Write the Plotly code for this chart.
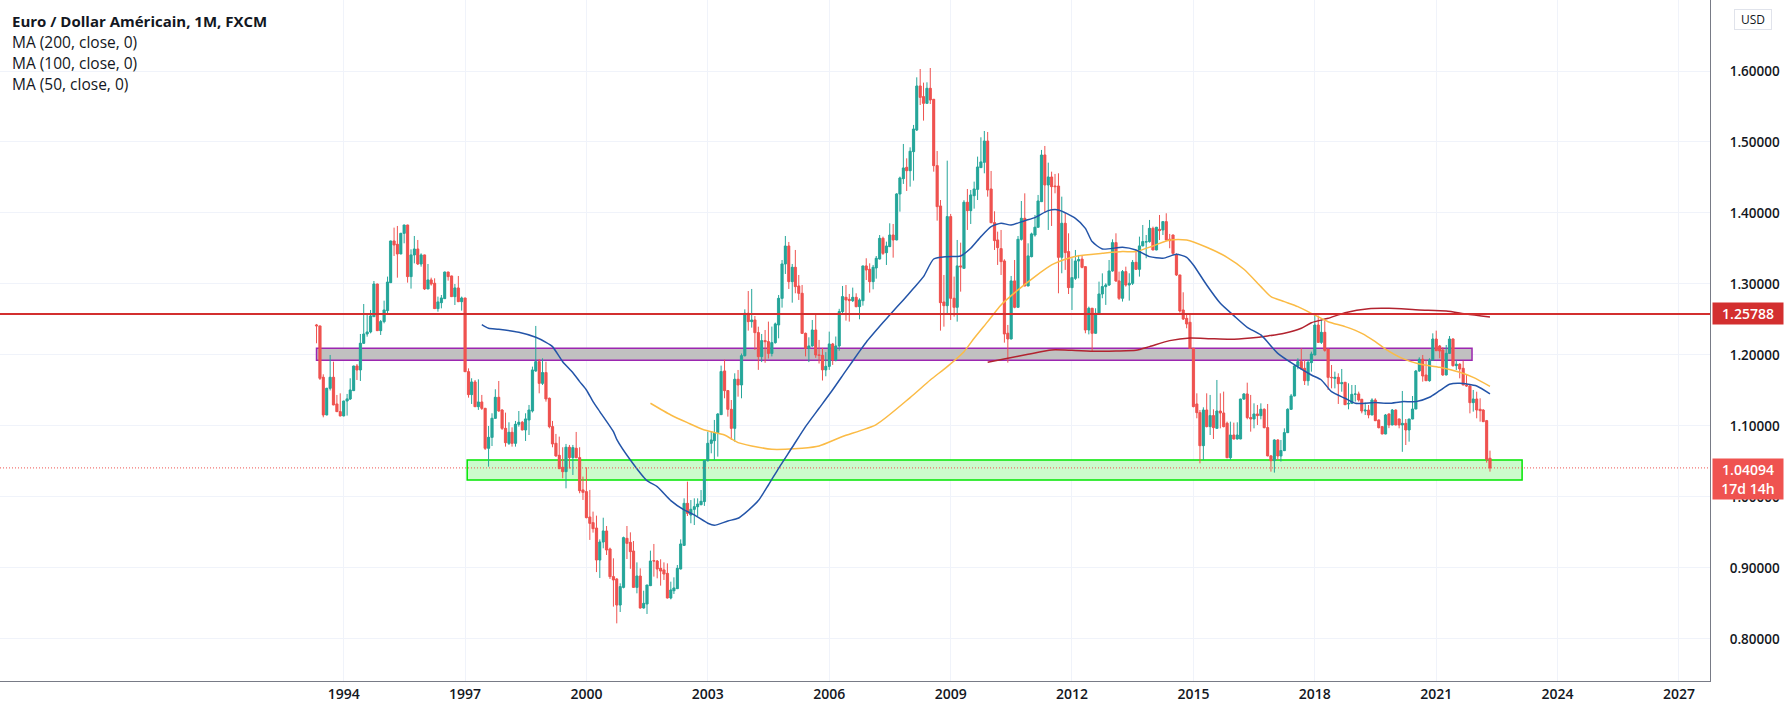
import pandas as pd
import plotly.graph_objects as go

# monthly candles, May 1993 to May 2022
opens = [
    1.2423, 1.2409, 1.1686, 1.1155, 1.1531, 1.1686, 1.1310, 1.1202, 1.1141, 1.1352,
    1.1380, 1.1498, 1.1845, 1.1789, 1.2165, 1.2296, 1.2324, 1.2540, 1.3000, 1.2343,
    1.2470, 1.2625, 1.3019, 1.3606, 1.3559, 1.3423, 1.3714, 1.3831, 1.3104, 1.3409,
    1.3493, 1.3282, 1.3409, 1.2930, 1.3057, 1.3010, 1.2653, 1.2737, 1.2794, 1.3169,
    1.3113, 1.2822, 1.2944, 1.2751, 1.2803, 1.1765, 1.1442, 1.1620, 1.1272, 1.1338,
    1.1249, 1.0686, 1.0840, 1.1108, 1.1404, 1.1225, 1.0967, 1.0756, 1.0911, 1.0756,
    1.1024, 1.1052, 1.0944, 1.1085, 1.1211, 1.1775, 1.1906, 1.1601, 1.1752, 1.1390,
    1.0991, 1.0756, 1.0587, 1.0418, 1.0357, 1.0700, 1.0554, 1.0686, 1.0554, 1.0099,
    1.0075, 0.9718, 0.9638, 0.9563, 0.9112, 0.9366, 0.9521, 0.9267, 0.8878, 0.8845,
    0.8478, 0.8727, 0.9417, 0.9361, 0.9239, 0.8727, 0.8887, 0.8436, 0.8493, 0.8751,
    0.9103, 0.9098, 0.8995, 0.8972, 0.8924, 0.8577, 0.8680, 0.8709, 0.8986, 0.9319,
    0.9910, 0.9746, 0.9826, 0.9863, 0.9892, 0.9935, 1.0512, 1.0756, 1.0793, 1.0906,
    1.1160, 1.1775, 1.1498, 1.1235, 1.0967, 1.1658, 1.1578, 1.1990, 1.2587, 1.2470,
    1.2493, 1.2315, 1.1977, 1.2202, 1.2188, 1.2022, 1.2174, 1.2423, 1.2798, 1.3282,
    1.3535, 1.3033, 1.3235, 1.2972, 1.2869, 1.2305, 1.2094, 1.2127, 1.2352, 1.2000,
    1.1995, 1.1790, 1.1840, 1.2155, 1.1930, 1.2127, 1.2611, 1.2812, 1.2784, 1.2765,
    1.2812, 1.2681, 1.2765, 1.3254, 1.3207, 1.3033, 1.3226, 1.3352, 1.3643, 1.3441,
    1.3526, 1.3690, 1.3620, 1.4268, 1.4484, 1.4643, 1.4596, 1.4864, 1.5169, 1.5789,
    1.5639, 1.5545, 1.5756, 1.5601, 1.4667, 1.4099, 1.2746, 1.2695, 1.3949, 1.2799,
    1.2672, 1.3254, 1.3221, 1.4151, 1.4033, 1.4244, 1.4333, 1.4639, 1.4714, 1.5014,
    1.4338, 1.3864, 1.3620, 1.3498, 1.3324, 1.2306, 1.2226, 1.3043, 1.2672, 1.3629,
    1.3925, 1.2972, 1.3385, 1.3690, 1.3799, 1.4160, 1.4817, 1.4395, 1.4507, 1.4380,
    1.4380, 1.3376, 1.3855, 1.3456, 1.2949, 1.3080, 1.3324, 1.3350, 1.3244, 1.2352,
    1.2658, 1.2306, 1.2577, 1.2859, 1.2963, 1.2986, 1.3183, 1.3582, 1.3043, 1.2799,
    1.3174, 1.2986, 1.3010, 1.3305, 1.3207, 1.3536, 1.3590, 1.3597, 1.3784, 1.3479,
    1.3770, 1.3761, 1.3878, 1.3630, 1.3690, 1.3409, 1.3127, 1.2634, 1.2516, 1.2460,
    1.2094, 1.1310, 1.1188, 1.0723, 1.1225, 1.0991, 1.1146, 1.0967, 1.1211, 1.1183,
    1.1038, 1.0554, 1.0873, 1.0817, 1.0817, 1.1380, 1.1451, 1.1118, 1.1099, 1.1169,
    1.1146, 1.1235, 1.0977, 1.0578, 1.0512, 1.0803, 1.0578, 1.0653, 1.0906, 1.1235,
    1.1422, 1.1845, 1.1906, 1.1812, 1.1638, 1.1892, 1.2000, 1.2422, 1.2178, 1.2319,
    1.2084, 1.1685, 1.1671, 1.1685, 1.1596, 1.1615, 1.1310, 1.1319, 1.1446, 1.1451,
    1.1376, 1.1211, 1.1225, 1.1155, 1.1366, 1.1085, 1.0991, 1.0887, 1.1169, 1.1014,
    1.1225, 1.1099, 1.1014, 1.1037, 1.0944, 1.1098, 1.1239, 1.1774, 1.1939, 1.1718,
    1.1638, 1.1929, 1.2225, 1.2127, 1.2070, 1.1718, 1.2023, 1.2225, 1.1850, 1.1870,
    1.1812, 1.1577, 1.1563, 1.1329, 1.1380, 1.1235, 1.1225, 1.1075, 1.0545,
]
highs = [
    1.2437, 1.2410, 1.1728, 1.1531, 1.2000, 1.1906, 1.1437, 1.1460, 1.1352, 1.1451,
    1.1672, 1.1845, 1.1873, 1.2296, 1.2718, 1.2587, 1.2634, 1.3042, 1.3000, 1.2493,
    1.2765, 1.3104, 1.3606, 1.3794, 1.3817, 1.3714, 1.3831, 1.3831, 1.3488, 1.3676,
    1.3620, 1.3432, 1.3409, 1.3282, 1.3089, 1.3080, 1.2822, 1.2845, 1.3169, 1.3169,
    1.3113, 1.3000, 1.3113, 1.2822, 1.2803, 1.1812, 1.1672, 1.1648, 1.1657, 1.1437,
    1.1249, 1.1000, 1.1179, 1.1517, 1.1634, 1.1235, 1.1188, 1.1052, 1.0981, 1.1071,
    1.1211, 1.1071, 1.1179, 1.1296, 1.1836, 1.2409, 1.1944, 1.1953, 1.1906, 1.1400,
    1.1071, 1.0888, 1.0850, 1.0700, 1.0747, 1.0733, 1.0733, 1.0916, 1.0700, 1.0287,
    1.0418, 1.0099, 0.9794, 0.9737, 0.9403, 0.9708, 0.9591, 0.9286, 0.9136, 0.8854,
    0.8784, 0.9441, 0.9591, 0.9502, 0.9380, 0.9079, 0.8995, 0.8680, 0.8760, 0.9244,
    0.9338, 0.9112, 0.9122, 0.9079, 0.9065, 0.8807, 0.8868, 0.9042, 0.9403, 0.9981,
    1.0216, 0.9957, 0.9981, 0.9981, 1.0098, 1.0512, 1.0920, 1.0920, 1.1085, 1.1179,
    1.1850, 1.1935, 1.1507, 1.1366, 1.1742, 1.1789, 1.2020, 1.2643, 1.2901, 1.2930,
    1.2549, 1.2399, 1.2296, 1.2352, 1.2470, 1.2400, 1.2456, 1.2845, 1.3338, 1.3676,
    1.3592, 1.3282, 1.3479, 1.3127, 1.2986, 1.2315, 1.2249, 1.2493, 1.2587, 1.2212,
    1.2100, 1.2040, 1.2329, 1.2170, 1.2260, 1.2650, 1.2972, 1.2986, 1.2860, 1.2949,
    1.2869, 1.2798, 1.3254, 1.3362, 1.3291, 1.3268, 1.3394, 1.3690, 1.3667, 1.3596,
    1.3855, 1.3845, 1.4277, 1.4512, 1.4972, 1.4770, 1.4925, 1.5240, 1.5911, 1.6028,
    1.5836, 1.5841, 1.6042, 1.5601, 1.4873, 1.4183, 1.3127, 1.4737, 1.3986, 1.3104,
    1.3620, 1.3582, 1.4180, 1.4338, 1.4324, 1.4442, 1.4794, 1.5066, 1.5155, 1.5141,
    1.4592, 1.4024, 1.3737, 1.3761, 1.3348, 1.2423, 1.3113, 1.3338, 1.3676, 1.4169,
    1.4277, 1.3573, 1.3723, 1.3972, 1.4254, 1.4888, 1.4944, 1.4709, 1.4582, 1.4550,
    1.4559, 1.4230, 1.3996, 1.3714, 1.3362, 1.3479, 1.3409, 1.3395, 1.3244, 1.2681,
    1.2658, 1.2658, 1.3033, 1.3150, 1.3010, 1.3338, 1.3629, 1.3714, 1.3174, 1.3197,
    1.3244, 1.3151, 1.3338, 1.3479, 1.3667, 1.3831, 1.3690, 1.3902, 1.3808, 1.3799,
    1.3972, 1.3880, 1.3996, 1.3705, 1.3695, 1.3432, 1.3127, 1.2883, 1.2578, 1.2564,
    1.2094, 1.1460, 1.1225, 1.1263, 1.1460, 1.1437, 1.1235, 1.1648, 1.1460, 1.1484,
    1.1061, 1.1061, 1.1047, 1.1052, 1.1380, 1.1460, 1.1610, 1.1437, 1.1319, 1.1296,
    1.1319, 1.1249, 1.1310, 1.0592, 1.0812, 1.0812, 1.0803, 1.0967, 1.1249, 1.1451,
    1.1859, 1.1953, 1.2094, 1.1929, 1.1929, 1.2047, 1.2563, 1.2554, 1.2493, 1.2483,
    1.2084, 1.1859, 1.1765, 1.1742, 1.1803, 1.1620, 1.1601, 1.1577, 1.1577, 1.1484,
    1.1376, 1.1329, 1.1296, 1.1390, 1.1390, 1.1085, 1.0991, 1.1169, 1.1175, 1.1239,
    1.1230, 1.1099, 1.1493, 1.1098, 1.1098, 1.1422, 1.1789, 1.1967, 1.2000, 1.1929,
    1.1953, 1.2305, 1.2343, 1.2141, 1.2108, 1.2141, 1.2267, 1.2235, 1.1929, 1.1883,
    1.1920, 1.1727, 1.1577, 1.1507, 1.1483, 1.1390, 1.1235, 1.1085, 1.0653,
]
lows = [
    1.2165, 1.1648, 1.1122, 1.1155, 1.1500, 1.1296, 1.1202, 1.1141, 1.1141, 1.1146,
    1.1366, 1.1498, 1.1648, 1.1634, 1.2165, 1.2258, 1.2305, 1.2540, 1.2343, 1.2282,
    1.2446, 1.2564, 1.3019, 1.3395, 1.3089, 1.3423, 1.3573, 1.3019, 1.2935, 1.3291,
    1.3268, 1.3244, 1.2916, 1.2930, 1.2977, 1.2653, 1.2610, 1.2657, 1.2794, 1.3047,
    1.2822, 1.2704, 1.2751, 1.2625, 1.1765, 1.1399, 1.1310, 1.1272, 1.1226, 1.1226,
    1.0662, 1.0427, 1.0718, 1.1108, 1.1202, 1.0944, 1.0709, 1.0732, 1.0709, 1.0709,
    1.0991, 1.0944, 1.0789, 1.0873, 1.1190, 1.1765, 1.1460, 1.1577, 1.1343, 1.0967,
    1.0700, 1.0568, 1.0399, 1.0263, 1.0122, 1.0399, 1.0310, 1.0545, 1.0052, 0.9958,
    0.9700, 0.9395, 0.9498, 0.8942, 0.8859, 0.9277, 0.9183, 0.8845, 0.8455, 0.8220,
    0.8380, 0.8713, 0.9126, 0.8989, 0.8727, 0.8643, 0.8431, 0.8431, 0.8352, 0.8746,
    0.8878, 0.8854, 0.8751, 0.8831, 0.8573, 0.8558, 0.8633, 0.8709, 0.8981, 0.9309,
    0.9732, 0.9629, 0.9605, 0.9732, 0.9882, 0.9874, 1.0498, 1.0615, 1.0521, 1.0568,
    1.1155, 1.1390, 1.1132, 1.0803, 1.0780, 1.1413, 1.1390, 1.1980, 1.2343, 1.2385,
    1.2071, 1.1790, 1.1900, 1.1890, 1.1950, 1.1980, 1.2160, 1.2235, 1.2667, 1.3141,
    1.2930, 1.2737, 1.2869, 1.2775, 1.2296, 1.1980, 1.1900, 1.2118, 1.1960, 1.1880,
    1.1640, 1.1700, 1.1790, 1.1860, 1.1910, 1.2060, 1.2564, 1.2484, 1.2470, 1.2746,
    1.2672, 1.2503, 1.2695, 1.3056, 1.2878, 1.2925, 1.3075, 1.3348, 1.3409, 1.3268,
    1.3526, 1.3371, 1.3620, 1.4019, 1.4409, 1.4310, 1.4371, 1.4456, 1.5155, 1.5521,
    1.5301, 1.5545, 1.5535, 1.4582, 1.3892, 1.2343, 1.2399, 1.2564, 1.2493, 1.2540,
    1.2470, 1.2892, 1.3221, 1.3761, 1.3845, 1.4061, 1.4183, 1.4639, 1.4559, 1.4230,
    1.3855, 1.3479, 1.3268, 1.3127, 1.2174, 1.1892, 1.2221, 1.2658, 1.2672, 1.3611,
    1.2972, 1.2972, 1.3376, 1.3667, 1.3799, 1.4160, 1.4000, 1.3761, 1.3817, 1.4277,
    1.2869, 1.3151, 1.3198, 1.2859, 1.2634, 1.3057, 1.3080, 1.3221, 1.2306, 1.2290,
    1.2047, 1.2306, 1.2577, 1.2799, 1.2705, 1.2972, 1.3174, 1.3029, 1.2775, 1.2752,
    1.2963, 1.2766, 1.2986, 1.3197, 1.3104, 1.3536, 1.3362, 1.3583, 1.3479, 1.3479,
    1.3620, 1.3690, 1.3611, 1.3503, 1.3409, 1.3113, 1.2597, 1.2493, 1.2376, 1.2090,
    1.1263, 1.1108, 1.0474, 1.0521, 1.0981, 1.0873, 1.0817, 1.0967, 1.0967, 1.0981,
    1.0545, 1.0521, 1.0812, 1.0812, 1.0817, 1.1366, 1.1094, 1.0920, 1.0967, 1.1014,
    1.1094, 1.0967, 1.0578, 1.0357, 1.0343, 1.0521, 1.0498, 1.0653, 1.0906, 1.1225,
    1.1422, 1.1798, 1.1798, 1.1577, 1.1568, 1.1765, 1.2000, 1.2178, 1.2155, 1.2047,
    1.1507, 1.1530, 1.1530, 1.1310, 1.1483, 1.1296, 1.1235, 1.1319, 1.1343, 1.1343,
    1.1178, 1.1155, 1.1108, 1.1155, 1.1075, 1.0967, 1.0887, 1.0887, 1.0970, 1.1014,
    1.1014, 1.0967, 1.0636, 1.0732, 1.0779, 1.1098, 1.1239, 1.1765, 1.1624, 1.1638,
    1.1624, 1.1929, 1.2061, 1.1953, 1.1709, 1.1718, 1.2023, 1.1836, 1.1789, 1.1671,
    1.1577, 1.1554, 1.1178, 1.1202, 1.1108, 1.1061, 1.1061, 1.0484, 1.0357,
]
closes = [
    1.2410, 1.1672, 1.1155, 1.1531, 1.1686, 1.1296, 1.1202, 1.1141, 1.1352, 1.1381,
    1.1507, 1.1845, 1.1789, 1.2165, 1.2296, 1.2324, 1.2550, 1.3000, 1.2343, 1.2470,
    1.2634, 1.3028, 1.3606, 1.3550, 1.3423, 1.3714, 1.3831, 1.3104, 1.3409, 1.3493,
    1.3282, 1.3409, 1.2930, 1.3057, 1.3000, 1.2653, 1.2747, 1.2803, 1.3169, 1.3104,
    1.2822, 1.2944, 1.2751, 1.2803, 1.1765, 1.1442, 1.1620, 1.1272, 1.1338, 1.1249,
    1.0686, 1.0840, 1.1108, 1.1404, 1.1211, 1.0967, 1.0765, 1.0911, 1.0756, 1.1024,
    1.1052, 1.0944, 1.1099, 1.1225, 1.1789, 1.1906, 1.1601, 1.1752, 1.1381, 1.0991,
    1.0747, 1.0578, 1.0399, 1.0357, 1.0700, 1.0554, 1.0695, 1.0554, 1.0089, 1.0066,
    0.9709, 0.9629, 0.9554, 0.9112, 0.9366, 0.9521, 0.9253, 0.8878, 0.8831, 0.8478,
    0.8737, 0.9427, 0.9347, 0.9230, 0.8727, 0.8887, 0.8436, 0.8502, 0.8760, 0.9098,
    0.9098, 0.8985, 0.8957, 0.8915, 0.8577, 0.8690, 0.8718, 0.8995, 0.9338, 0.9910,
    0.9770, 0.9826, 0.9863, 0.9901, 0.9939, 1.0512, 1.0756, 1.0803, 1.0897, 1.1169,
    1.1766, 1.1498, 1.1235, 1.0967, 1.1658, 1.1578, 1.1990, 1.2587, 1.2470, 1.2493,
    1.2315, 1.1977, 1.2202, 1.2188, 1.2022, 1.2174, 1.2437, 1.2798, 1.3282, 1.3535,
    1.3033, 1.3235, 1.2963, 1.2869, 1.2305, 1.2094, 1.2127, 1.2352, 1.2000, 1.1995,
    1.1790, 1.1840, 1.2155, 1.1930, 1.2127, 1.2611, 1.2822, 1.2775, 1.2765, 1.2812,
    1.2681, 1.2775, 1.3254, 1.3197, 1.3033, 1.3235, 1.3362, 1.3643, 1.3432, 1.3535,
    1.3690, 1.3620, 1.4268, 1.4493, 1.4634, 1.4596, 1.4869, 1.5183, 1.5789, 1.5629,
    1.5545, 1.5756, 1.5592, 1.4667, 1.4090, 1.2737, 1.2695, 1.3949, 1.2799, 1.2672,
    1.3254, 1.3240, 1.4151, 1.4033, 1.4254, 1.4338, 1.4648, 1.4719, 1.5014, 1.4324,
    1.3864, 1.3611, 1.3512, 1.3315, 1.2296, 1.2226, 1.3043, 1.2672, 1.3629, 1.3925,
    1.2972, 1.3395, 1.3705, 1.3799, 1.4169, 1.4817, 1.4395, 1.4507, 1.4371, 1.4371,
    1.3376, 1.3855, 1.3442, 1.2949, 1.3089, 1.3324, 1.3345, 1.3235, 1.2352, 1.2658,
    1.2306, 1.2587, 1.2859, 1.2963, 1.2986, 1.3183, 1.3582, 1.3043, 1.2799, 1.3174,
    1.2986, 1.3010, 1.3305, 1.3207, 1.3536, 1.3597, 1.3597, 1.3784, 1.3479, 1.3799,
    1.3752, 1.3878, 1.3620, 1.3610, 1.3432, 1.3127, 1.2620, 1.2507, 1.2437, 1.2094,
    1.1273, 1.1188, 1.0723, 1.1225, 1.0991, 1.1146, 1.0977, 1.1211, 1.1183, 1.0991,
    1.0554, 1.0873, 1.0817, 1.0873, 1.1380, 1.1451, 1.1118, 1.1099, 1.1169, 1.1146,
    1.1235, 1.0977, 1.0578, 1.0512, 1.0803, 1.0578, 1.0653, 1.0906, 1.1235, 1.1423,
    1.1845, 1.1906, 1.1803, 1.1638, 1.1897, 1.2014, 1.2422, 1.2178, 1.2319, 1.2066,
    1.1685, 1.1680, 1.1685, 1.1596, 1.1610, 1.1300, 1.1319, 1.1446, 1.1451, 1.1366,
    1.1211, 1.1225, 1.1155, 1.1366, 1.1075, 1.0976, 1.0887, 1.1155, 1.1014, 1.1225,
    1.1014, 1.1014, 1.1037, 1.0944, 1.1098, 1.1239, 1.1774, 1.1939, 1.1704, 1.1638,
    1.1929, 1.2225, 1.2061, 1.2056, 1.1718, 1.2023, 1.2225, 1.1850, 1.1870, 1.1803,
    1.1577, 1.1563, 1.1329, 1.1380, 1.1225, 1.1216, 1.1061, 1.0531, 1.04094,
]

# moving averages read at these bars (bar number counted from May 1993)
ma50_bars = [49, 51, 54, 60, 65, 68, 70, 73, 76, 78, 80, 82, 84, 88, 89, 93, 98, 101, 105, 109,
             112, 116, 118, 122, 125, 127, 131, 134, 137, 141, 145, 149, 153, 157, 161, 163, 168,
             170, 174, 177, 180, 183, 187, 191, 194, 197, 200, 203, 206, 210, 213, 217, 220, 225,
             228, 230, 233, 239, 243, 247, 251, 255, 258, 260, 264, 268, 272, 276, 280, 285, 289,
             295, 298, 301, 305, 308, 314, 318, 322, 326, 330, 333, 336, 339, 344, 348]
ma50 = [1.2427, 1.2376, 1.2362, 1.2319, 1.2249, 1.2178, 1.2118, 1.1906, 1.1751, 1.1625, 1.1507,
        1.1343, 1.1202, 1.0920, 1.0812, 1.0521, 1.0230, 1.0146, 0.9949, 0.9817, 0.9747, 0.9630,
        0.9601, 0.9662, 0.9700, 0.9770, 0.9949, 1.0169, 1.0404, 1.0700, 1.0991, 1.1249, 1.1510,
        1.1780, 1.2050, 1.2180, 1.2456, 1.2564, 1.2775, 1.2939, 1.3103, 1.3352, 1.3385, 1.3395,
        1.3503, 1.3667, 1.3808, 1.3855, 1.3831, 1.3892, 1.3935, 1.4033, 1.4043, 1.3925, 1.3784,
        1.3597, 1.3493, 1.3517, 1.3479, 1.3385, 1.3362, 1.3418, 1.3376, 1.3268, 1.2986, 1.2728,
        1.2554, 1.2390, 1.2282, 1.2023, 1.1892, 1.1718, 1.1648, 1.1483, 1.1390, 1.1319, 1.1329,
        1.1319, 1.1343, 1.1343, 1.1404, 1.1497, 1.1587, 1.1601, 1.1563, 1.1451]

ma100_bars = [99, 105, 110, 115, 121, 125, 129, 135, 139, 144, 149, 156, 166, 176, 182, 187, 192,
              195, 199, 203, 208, 213, 218, 223, 226, 233, 239, 243, 248, 253, 258, 264, 270, 275,
              280, 283, 287, 291, 295, 300, 305, 310, 314, 317, 322, 327, 333, 339, 343, 348]
ma100 = [1.1320, 1.1155, 1.1047, 1.0944, 1.0873, 1.0765, 1.0719, 1.0672, 1.0672, 1.0686, 1.0719,
         1.0852, 1.1020, 1.1400, 1.1648, 1.1836, 1.2047, 1.2235, 1.2470, 1.2705, 1.2916, 1.3104,
         1.3268, 1.3362, 1.3399, 1.3432, 1.3456, 1.3456, 1.3536, 1.3620, 1.3620, 1.3517, 1.3376,
         1.3207, 1.2963, 1.2822, 1.2751, 1.2681, 1.2587, 1.2469, 1.2399, 1.2305, 1.2188, 1.2084,
         1.1953, 1.1873, 1.1826, 1.1756, 1.1685, 1.1559]

ma200_bars = [199, 205, 211, 218, 224, 231, 237, 243, 247, 253, 259, 265, 271, 277, 282, 287, 292,
              295, 300, 305, 312, 318, 327, 335, 341, 348]
ma200 = [1.1897, 1.1953, 1.2010, 1.2071, 1.2066, 1.2052, 1.2057, 1.2066, 1.2118, 1.2202, 1.2240,
         1.2230, 1.2221, 1.2240, 1.2268, 1.2306, 1.2376, 1.2455, 1.2517, 1.2596, 1.2652, 1.2657,
         1.2634, 1.2620, 1.2577, 1.2535]

year_ticks = ["1994", "1997", "2000", "2003", "2006", "2009", "2012", "2015", "2018", "2021", "2024", "2027"]
price_ticks = [0.8, 0.9, 1.0, 1.1, 1.2, 1.3, 1.4, 1.5, 1.6]
legend_lines = ["MA (200, close, 0)", "MA (100, close, 0)", "MA (50, close, 0)"]

dates = pd.date_range("1993-05-01", periods=len(closes), freq="MS")

TEXT = "#131722"
GRID = "#f0f3fa"
FONT = "Open Sans, Noto Sans, sans-serif"
UP = "#26a69a"
DOWN = "#ef5350"

fig = go.Figure()

# plotly draws thin candle boxes at this density, so wicks come from the
# candlestick and the fatter bodies from bars laid on top
fig.add_trace(go.Candlestick(
    x=dates, open=opens, high=highs, low=lows, close=closes,
    increasing=dict(line=dict(color=UP, width=1), fillcolor=UP),
    decreasing=dict(line=dict(color=DOWN, width=1), fillcolor=DOWN),
    whiskerwidth=0,
    showlegend=False,
))

fig.add_trace(go.Bar(
    x=dates,
    y=[abs(c - o) for o, c in zip(opens, closes)],
    base=[min(o, c) for o, c in zip(opens, closes)],
    width=1.9e9,
    marker=dict(color=[UP if c >= o else DOWN for o, c in zip(opens, closes)],
                line=dict(width=0.5, color=[UP if c >= o else DOWN for o, c in zip(opens, closes)])),
    showlegend=False,
))

for bars, vals, color in [
    (ma200_bars, ma200, "#b2232f"),
    (ma100_bars, ma100, "#fbbb45"),
    (ma50_bars, ma50, "#2354a8"),
]:
    fig.add_trace(go.Scatter(
        x=dates[bars], y=vals, mode="lines",
        line=dict(color=color, width=1.5, shape="spline", smoothing=0.6),
        showlegend=False,
    ))

# drawings on the chart, over the grid but under the candles
fig.add_shape(type="rect", layer="between", x0="1993-05-01", x1="2021-11-20", y0=1.1925, y1=1.2094,
              fillcolor="#c1c1c1", line=dict(color="#9c27b0", width=1.5))
fig.add_shape(type="rect", layer="between", x0="1997-01-20", x1="2023-02-15", y0=1.0239, y1=1.0521,
              fillcolor="#ccfbcc", line=dict(color="#00e600", width=1.5))
fig.add_hline(y=1.25788, line=dict(color="#d32f2f", width=2))
fig.add_hline(y=1.04094, line=dict(color="#ef5350", width=1, dash="1px,2px"))

# title block
fig.add_annotation(text="<b>Euro / Dollar Américain, 1M, FXCM</b>", xref="paper", yref="paper",
                   x=0, y=1, xshift=10, yshift=-21, xanchor="left", yanchor="middle", showarrow=False,
                   font=dict(size=15, color=TEXT, family=FONT))
for n, line in enumerate(legend_lines):
    fig.add_annotation(text=line, xref="paper", yref="paper", x=0, y=1, xshift=10, yshift=-42 - 21 * n,
                       xanchor="left", yanchor="middle", showarrow=False,
                       font=dict(size=15.5, color=TEXT, family=FONT))

# price labels on the axis
fig.add_annotation(text="USD", xref="paper", yref="paper", x=1, y=1, xshift=24, yshift=-9,
                   xanchor="left", yanchor="top", showarrow=False, width=34, height=17,
                   bordercolor="#e0e3eb", borderwidth=1, font=dict(size=12, color=TEXT, family=FONT))
fig.add_annotation(text="1.25788", xref="paper", yref="y", x=1, y=1.25788, xshift=2, xanchor="left",
                   yanchor="middle", showarrow=False, width=68, height=19, bgcolor="#d32f2f",
                   font=dict(size=14, color="#ffffff", family=FONT, weight=600))
fig.add_annotation(text="1.04094<br>17d 14h", xref="paper", yref="y", x=1, y=1.04094, xshift=2, yshift=10,
                   xanchor="left", yanchor="top", showarrow=False, width=68, height=38, bgcolor="#ef5350",
                   font=dict(size=14, color="#ffffff", family=FONT, weight=600))

fig.update_layout(
    width=1787, height=713,
    margin=dict(l=0, r=77, t=0, b=32),
    paper_bgcolor="#ffffff", plot_bgcolor="#ffffff",
    font=dict(family=FONT, color=TEXT),
    barmode="overlay",
    xaxis=dict(
        type="date", range=["1985-07-05", "2027-10-08"], rangeslider=dict(visible=False),
        tickvals=[y + "-01-01" for y in year_ticks], ticktext=year_ticks,
        showgrid=True, gridcolor=GRID, gridwidth=1, zeroline=False,
        showline=True, linecolor="#787b86", linewidth=1, ticks="",
        tickfont=dict(size=14, color=TEXT, family=FONT, weight=600),
    ),
    yaxis=dict(
        side="right", range=[0.7408, 1.7], tickvals=price_ticks, tickformat=".5f",
        showgrid=True, gridcolor=GRID, gridwidth=1, zeroline=False,
        showline=True, linecolor="#787b86", linewidth=1, ticks="", ticklabelstandoff=16,
        tickfont=dict(size=13.5, color=TEXT, family=FONT, weight=600),
    ),
)

fig.write_html("out.html", config=dict(displayModeBar=False),
               post_script="document.body.style.margin='0';")
